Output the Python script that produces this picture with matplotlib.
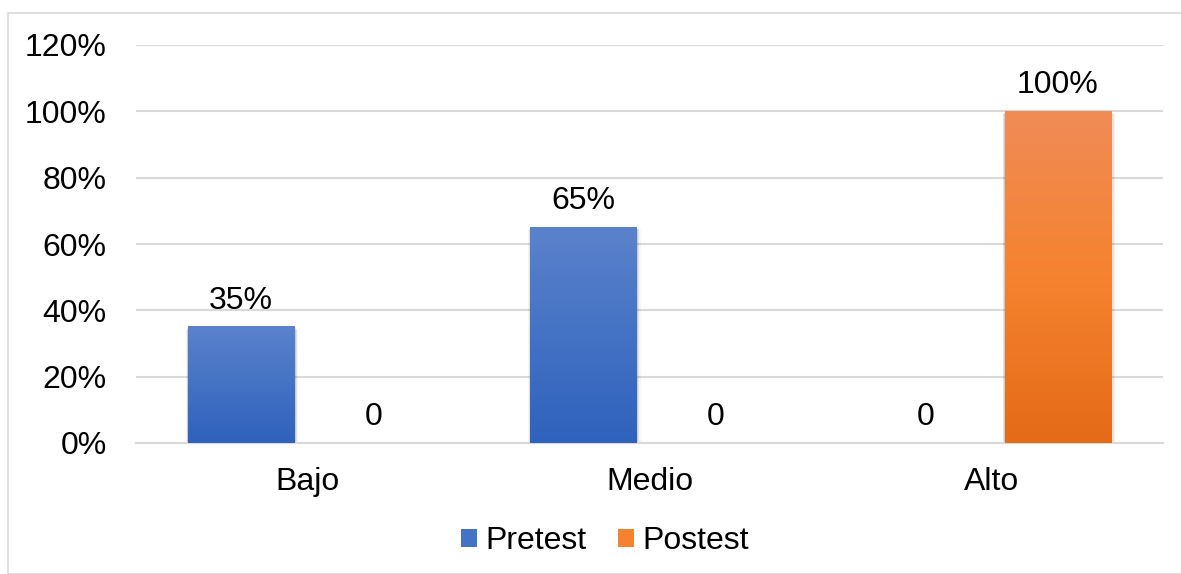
import matplotlib.pyplot as plt
import numpy as np
from matplotlib.colors import LinearSegmentedColormap
from matplotlib.patches import Patch, Rectangle

plt.rcParams['font.family'] = ['Liberation Sans', 'DejaVu Sans']

# niveles y porcentajes de cada grupo
niveles = ['Bajo', 'Medio', 'Alto']
pretest = [0.35, 0.65, 0.0]
postest = [0.0, 0.0, 1.0]
series = ['Pretest', 'Postest']
yticks = [0, 0.2, 0.4, 0.6, 0.8, 1.0, 1.2]

# degradados de arriba hacia abajo
azul = ['#5B82CC', '#4472C4', '#2F62BD']
naranja = ['#F08C57', '#F5822E', '#E46B18']

fig = plt.figure(figsize=(11.81, 5.74), dpi=100)
ax = fig.add_axes([136 / 1181, 1 - 443 / 574, 1027 / 1181, 398 / 574])

# marco del grafico
fig.patches.append(Rectangle((8 / 1181, 0), 1.2, 1 - 13 / 574, transform=fig.transFigure,
                             fill=False, edgecolor='#D9D9D9', linewidth=1.2))

ancho = 0.31
desp = 0.193
x = np.arange(len(niveles))
fs = 23


def barra(xc, h, colores):
    if h <= 0:
        return
    x0, x1 = xc - ancho / 2, xc + ancho / 2
    # sombra suave
    for i, a in enumerate([0.10, 0.07, 0.04]):
        d = 0.004 * (i + 1)
        ax.add_patch(Rectangle((x0 - d * 0.5, -0.004 * (i + 1)), ancho + d * 1.5, h + 0.002 * i,
                               facecolor='black', alpha=a, edgecolor='none', zorder=2))
    cmap = LinearSegmentedColormap.from_list('g', colores)
    grad = np.linspace(1, 0, 256).reshape(-1, 1)
    ax.imshow(grad, extent=[x0, x1, 0, h], aspect='auto', cmap=cmap, zorder=3, origin='lower')


for i in range(len(niveles)):
    barra(x[i] - desp, pretest[i], azul)
    barra(x[i] + desp, postest[i], naranja)

for vals, off in [(pretest, -desp), (postest, desp)]:
    for i, v in enumerate(vals):
        txt = '0' if v == 0 else f'{v * 100:.0f}%'
        ax.annotate(txt, (x[i] + off, v), xytext=(0, 8), textcoords='offset points',
                    ha='center', va='bottom', fontsize=fs, color='black', zorder=5)

ax.set_xlim(-0.5, 2.5)
ax.set_ylim(0, 1.2)
ax.set_yticks(yticks)
ax.set_yticklabels([f'{t * 100:.0f}%' for t in yticks])
ax.set_xticks(x)
ax.set_xticklabels(niveles)
ax.tick_params(axis='both', length=0, labelsize=fs, colors='black')
ax.tick_params(axis='x', pad=17)
ax.tick_params(axis='y', pad=21)
ax.grid(axis='y', color='#D9D9D9', linewidth=1.5, zorder=0)
ax.set_axisbelow(True)
for s in ['top', 'right', 'left']:
    ax.spines[s].set_visible(False)
ax.spines['bottom'].set_color('#D9D9D9')
ax.spines['bottom'].set_linewidth(1.5)

handles = [Patch(facecolor=azul[1], edgecolor='none'), Patch(facecolor=naranja[1], edgecolor='none')]
fig.legend(handles, series, loc='center', bbox_to_anchor=(605 / 1181, 1 - 541 / 574), ncol=2, frameon=False,
           fontsize=fs, handlelength=0.5, handleheight=0.5, handletextpad=0.25, columnspacing=1.0)

fig.savefig('out.png', dpi=100)
